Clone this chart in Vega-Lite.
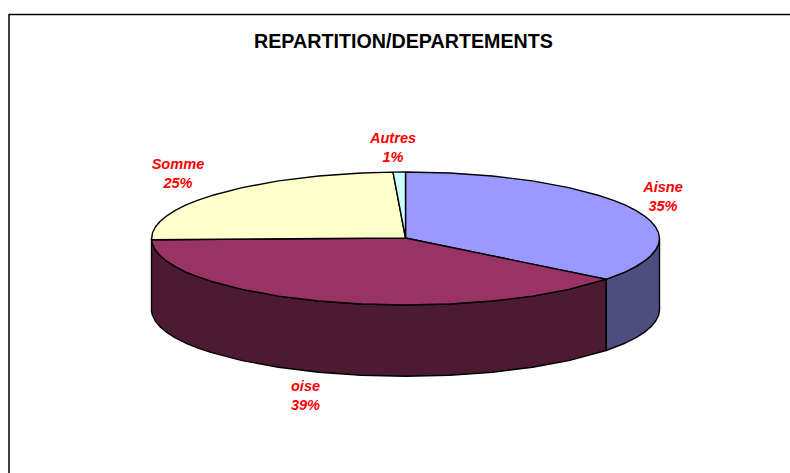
{"$schema":"https://vega.github.io/schema/vega-lite/v6.json","width":790,"height":473,"padding":0,"autosize":{"type":"none"},"background":"white","view":{"stroke":null},
"datasets":{"outline":[
{"piece":"Aisne side","seq":1,"x":659.5,"y":238.5},{"piece":"Aisne side","seq":2,"x":658.5,"y":244.3},{"piece":"Aisne side","seq":3,"x":655.6,"y":250},{"piece":"Aisne side","seq":4,"x":650.8,"y":255.7},{"piece":"Aisne side","seq":5,"x":644.2,"y":261.2},{"piece":"Aisne side","seq":6,"x":635.7,"y":266.6},{"piece":"Aisne side","seq":7,"x":625.5,"y":271.8},{"piece":"Aisne side","seq":8,"x":606,"y":279.3},{"piece":"Aisne side","seq":9,"x":606,"y":350.5},{"piece":"Aisne side","seq":10,"x":625.5,"y":343},{"piece":"Aisne side","seq":11,"x":635.7,"y":337.8},{"piece":"Aisne side","seq":12,"x":644.2,"y":332.4},{"piece":"Aisne side","seq":13,"x":650.8,"y":326.9},{"piece":"Aisne side","seq":14,"x":655.6,"y":321.2},{"piece":"Aisne side","seq":15,"x":658.5,"y":315.5},{"piece":"Aisne side","seq":16,"x":659.5,"y":310},{"piece":"Aisne side","seq":17,"x":659.5,"y":238.5},
{"piece":"oise side","seq":1,"x":606,"y":279.3},{"piece":"oise side","seq":2,"x":568.8,"y":289.4},{"piece":"oise side","seq":3,"x":532.5,"y":296.1},{"piece":"oise side","seq":4,"x":492.4,"y":301},{"piece":"oise side","seq":5,"x":449.6,"y":304},{"piece":"oise side","seq":6,"x":405.5,"y":305},{"piece":"oise side","seq":7,"x":361.4,"y":304},{"piece":"oise side","seq":8,"x":318.6,"y":301},{"piece":"oise side","seq":9,"x":278.5,"y":296.1},{"piece":"oise side","seq":10,"x":242.2,"y":289.4},{"piece":"oise side","seq":11,"x":210.9,"y":281.2},{"piece":"oise side","seq":12,"x":185.5,"y":271.8},{"piece":"oise side","seq":13,"x":166.8,"y":261.2},{"piece":"oise side","seq":14,"x":155.4,"y":250},{"piece":"oise side","seq":15,"x":151.5,"y":239.7},{"piece":"oise side","seq":16,"x":151.5,"y":311},{"piece":"oise side","seq":17,"x":152.5,"y":315.5},{"piece":"oise side","seq":18,"x":155.4,"y":321.2},{"piece":"oise side","seq":19,"x":160.2,"y":326.9},{"piece":"oise side","seq":20,"x":166.8,"y":332.4},{"piece":"oise side","seq":21,"x":175.3,"y":337.8},{"piece":"oise side","seq":22,"x":185.5,"y":343},{"piece":"oise side","seq":23,"x":197.4,"y":347.8},{"piece":"oise side","seq":24,"x":210.9,"y":352.4},{"piece":"oise side","seq":25,"x":242.2,"y":360.6},{"piece":"oise side","seq":26,"x":278.5,"y":367.3},{"piece":"oise side","seq":27,"x":318.6,"y":372.2},{"piece":"oise side","seq":28,"x":361.4,"y":375.2},{"piece":"oise side","seq":29,"x":405.5,"y":376.2},{"piece":"oise side","seq":30,"x":449.6,"y":375.2},{"piece":"oise side","seq":31,"x":492.4,"y":372.2},{"piece":"oise side","seq":32,"x":532.5,"y":367.3},{"piece":"oise side","seq":33,"x":568.8,"y":360.6},{"piece":"oise side","seq":34,"x":606,"y":350.5},{"piece":"oise side","seq":35,"x":606,"y":279.3},
{"piece":"Aisne","seq":1,"x":405.5,"y":238},{"piece":"Aisne","seq":2,"x":405.5,"y":172},{"piece":"Aisne","seq":3,"x":449.6,"y":173},{"piece":"Aisne","seq":4,"x":492.4,"y":176},{"piece":"Aisne","seq":5,"x":532.5,"y":180.9},{"piece":"Aisne","seq":6,"x":568.8,"y":187.6},{"piece":"Aisne","seq":7,"x":600.1,"y":195.8},{"piece":"Aisne","seq":8,"x":613.6,"y":200.4},{"piece":"Aisne","seq":9,"x":625.5,"y":205.2},{"piece":"Aisne","seq":10,"x":635.7,"y":210.4},{"piece":"Aisne","seq":11,"x":644.2,"y":215.8},{"piece":"Aisne","seq":12,"x":650.8,"y":221.3},{"piece":"Aisne","seq":13,"x":655.6,"y":227},{"piece":"Aisne","seq":14,"x":658.5,"y":232.7},{"piece":"Aisne","seq":15,"x":659.5,"y":238.5},{"piece":"Aisne","seq":16,"x":658.5,"y":244.3},{"piece":"Aisne","seq":17,"x":655.6,"y":250},{"piece":"Aisne","seq":18,"x":650.8,"y":255.7},{"piece":"Aisne","seq":19,"x":644.2,"y":261.2},{"piece":"Aisne","seq":20,"x":635.7,"y":266.6},{"piece":"Aisne","seq":21,"x":625.5,"y":271.8},{"piece":"Aisne","seq":22,"x":606,"y":279.3},{"piece":"Aisne","seq":23,"x":405.5,"y":238},
{"piece":"oise","seq":1,"x":405.5,"y":238},{"piece":"oise","seq":2,"x":606,"y":279.3},{"piece":"oise","seq":3,"x":568.8,"y":289.4},{"piece":"oise","seq":4,"x":532.5,"y":296.1},{"piece":"oise","seq":5,"x":492.4,"y":301},{"piece":"oise","seq":6,"x":449.6,"y":304},{"piece":"oise","seq":7,"x":405.5,"y":305},{"piece":"oise","seq":8,"x":361.4,"y":304},{"piece":"oise","seq":9,"x":318.6,"y":301},{"piece":"oise","seq":10,"x":278.5,"y":296.1},{"piece":"oise","seq":11,"x":242.2,"y":289.4},{"piece":"oise","seq":12,"x":210.9,"y":281.2},{"piece":"oise","seq":13,"x":197.4,"y":276.6},{"piece":"oise","seq":14,"x":185.5,"y":271.8},{"piece":"oise","seq":15,"x":175.3,"y":266.6},{"piece":"oise","seq":16,"x":166.8,"y":261.2},{"piece":"oise","seq":17,"x":160.2,"y":255.7},{"piece":"oise","seq":18,"x":155.4,"y":250},{"piece":"oise","seq":19,"x":152.5,"y":244.3},{"piece":"oise","seq":20,"x":151.5,"y":239.7},{"piece":"oise","seq":21,"x":405.5,"y":238},
{"piece":"Somme","seq":1,"x":405.5,"y":238},{"piece":"Somme","seq":2,"x":151.5,"y":239.7},{"piece":"Somme","seq":3,"x":152.5,"y":232.7},{"piece":"Somme","seq":4,"x":155.4,"y":227},{"piece":"Somme","seq":5,"x":160.2,"y":221.3},{"piece":"Somme","seq":6,"x":166.8,"y":215.8},{"piece":"Somme","seq":7,"x":175.3,"y":210.4},{"piece":"Somme","seq":8,"x":185.5,"y":205.2},{"piece":"Somme","seq":9,"x":197.4,"y":200.4},{"piece":"Somme","seq":10,"x":210.9,"y":195.8},{"piece":"Somme","seq":11,"x":242.2,"y":187.6},{"piece":"Somme","seq":12,"x":278.5,"y":180.9},{"piece":"Somme","seq":13,"x":318.6,"y":176},{"piece":"Somme","seq":14,"x":361.4,"y":173},{"piece":"Somme","seq":15,"x":393,"y":172.1},{"piece":"Somme","seq":16,"x":405.5,"y":238},
{"piece":"Autres","seq":1,"x":405.5,"y":238},{"piece":"Autres","seq":2,"x":393,"y":172.1},{"piece":"Autres","seq":3,"x":405.5,"y":172},{"piece":"Autres","seq":4,"x":405.5,"y":238}
],
"frame":[{"x":9,"y":473,"seq":1},{"x":9,"y":14.5,"seq":2},{"x":790,"y":14.5,"seq":3}],
"labels":[{"label":"Aisne","x":663,"y":187.5},{"label":"35%","x":663,"y":206.5},{"label":"Somme","x":178,"y":164.5},{"label":"25%","x":178,"y":183.5},{"label":"Autres","x":393,"y":138.5},{"label":"1%","x":393,"y":157.5},{"label":"oise","x":305.5,"y":386.5},{"label":"39%","x":305.5,"y":405.5}],
"heading":[{"label":"REPARTITION/DEPARTEMENTS","x":403.5,"y":41.5}]},
"layer":[
{"data":{"name":"outline"},"mark":{"type":"line","stroke":"black","strokeWidth":1.4,"strokeJoin":"round","clip":false},
"encoding":{"x":{"field":"x","type":"quantitative","scale":{"domain":[0,790]},"axis":null},"y":{"field":"y","type":"quantitative","scale":{"domain":[473,0]},"axis":null},"order":{"field":"seq","type":"quantitative"},"detail":{"field":"piece"},
"fill":{"field":"piece","type":"nominal","legend":null,"scale":{"domain":["Aisne","oise","Somme","Autres","Aisne side","oise side"],"range":["#9999FF","#993366","#FFFFCC","#CCFFFF","#4D4D80","#4D1A33"]}}}},
{"data":{"name":"frame"},"mark":{"type":"line","stroke":"black","strokeWidth":1.5},
"encoding":{"x":{"field":"x","type":"quantitative","scale":{"domain":[0,790]},"axis":null},"y":{"field":"y","type":"quantitative","scale":{"domain":[473,0]},"axis":null},"order":{"field":"seq","type":"quantitative"}}},
{"data":{"name":"labels"},"mark":{"type":"text","font":"Liberation Sans","fontSize":14.6,"fontWeight":"bold","fontStyle":"italic","color":"#FF0000","align":"center","baseline":"middle"},
"encoding":{"x":{"field":"x","type":"quantitative","scale":{"domain":[0,790]},"axis":null},"y":{"field":"y","type":"quantitative","scale":{"domain":[473,0]},"axis":null},"text":{"field":"label"}}},
{"data":{"name":"heading"},"mark":{"type":"text","font":"Liberation Sans","fontSize":19.7,"fontWeight":"bold","color":"black","align":"center","baseline":"middle"},
"encoding":{"x":{"field":"x","type":"quantitative","scale":{"domain":[0,790]},"axis":null},"y":{"field":"y","type":"quantitative","scale":{"domain":[473,0]},"axis":null},"text":{"field":"label"}}}
]}
